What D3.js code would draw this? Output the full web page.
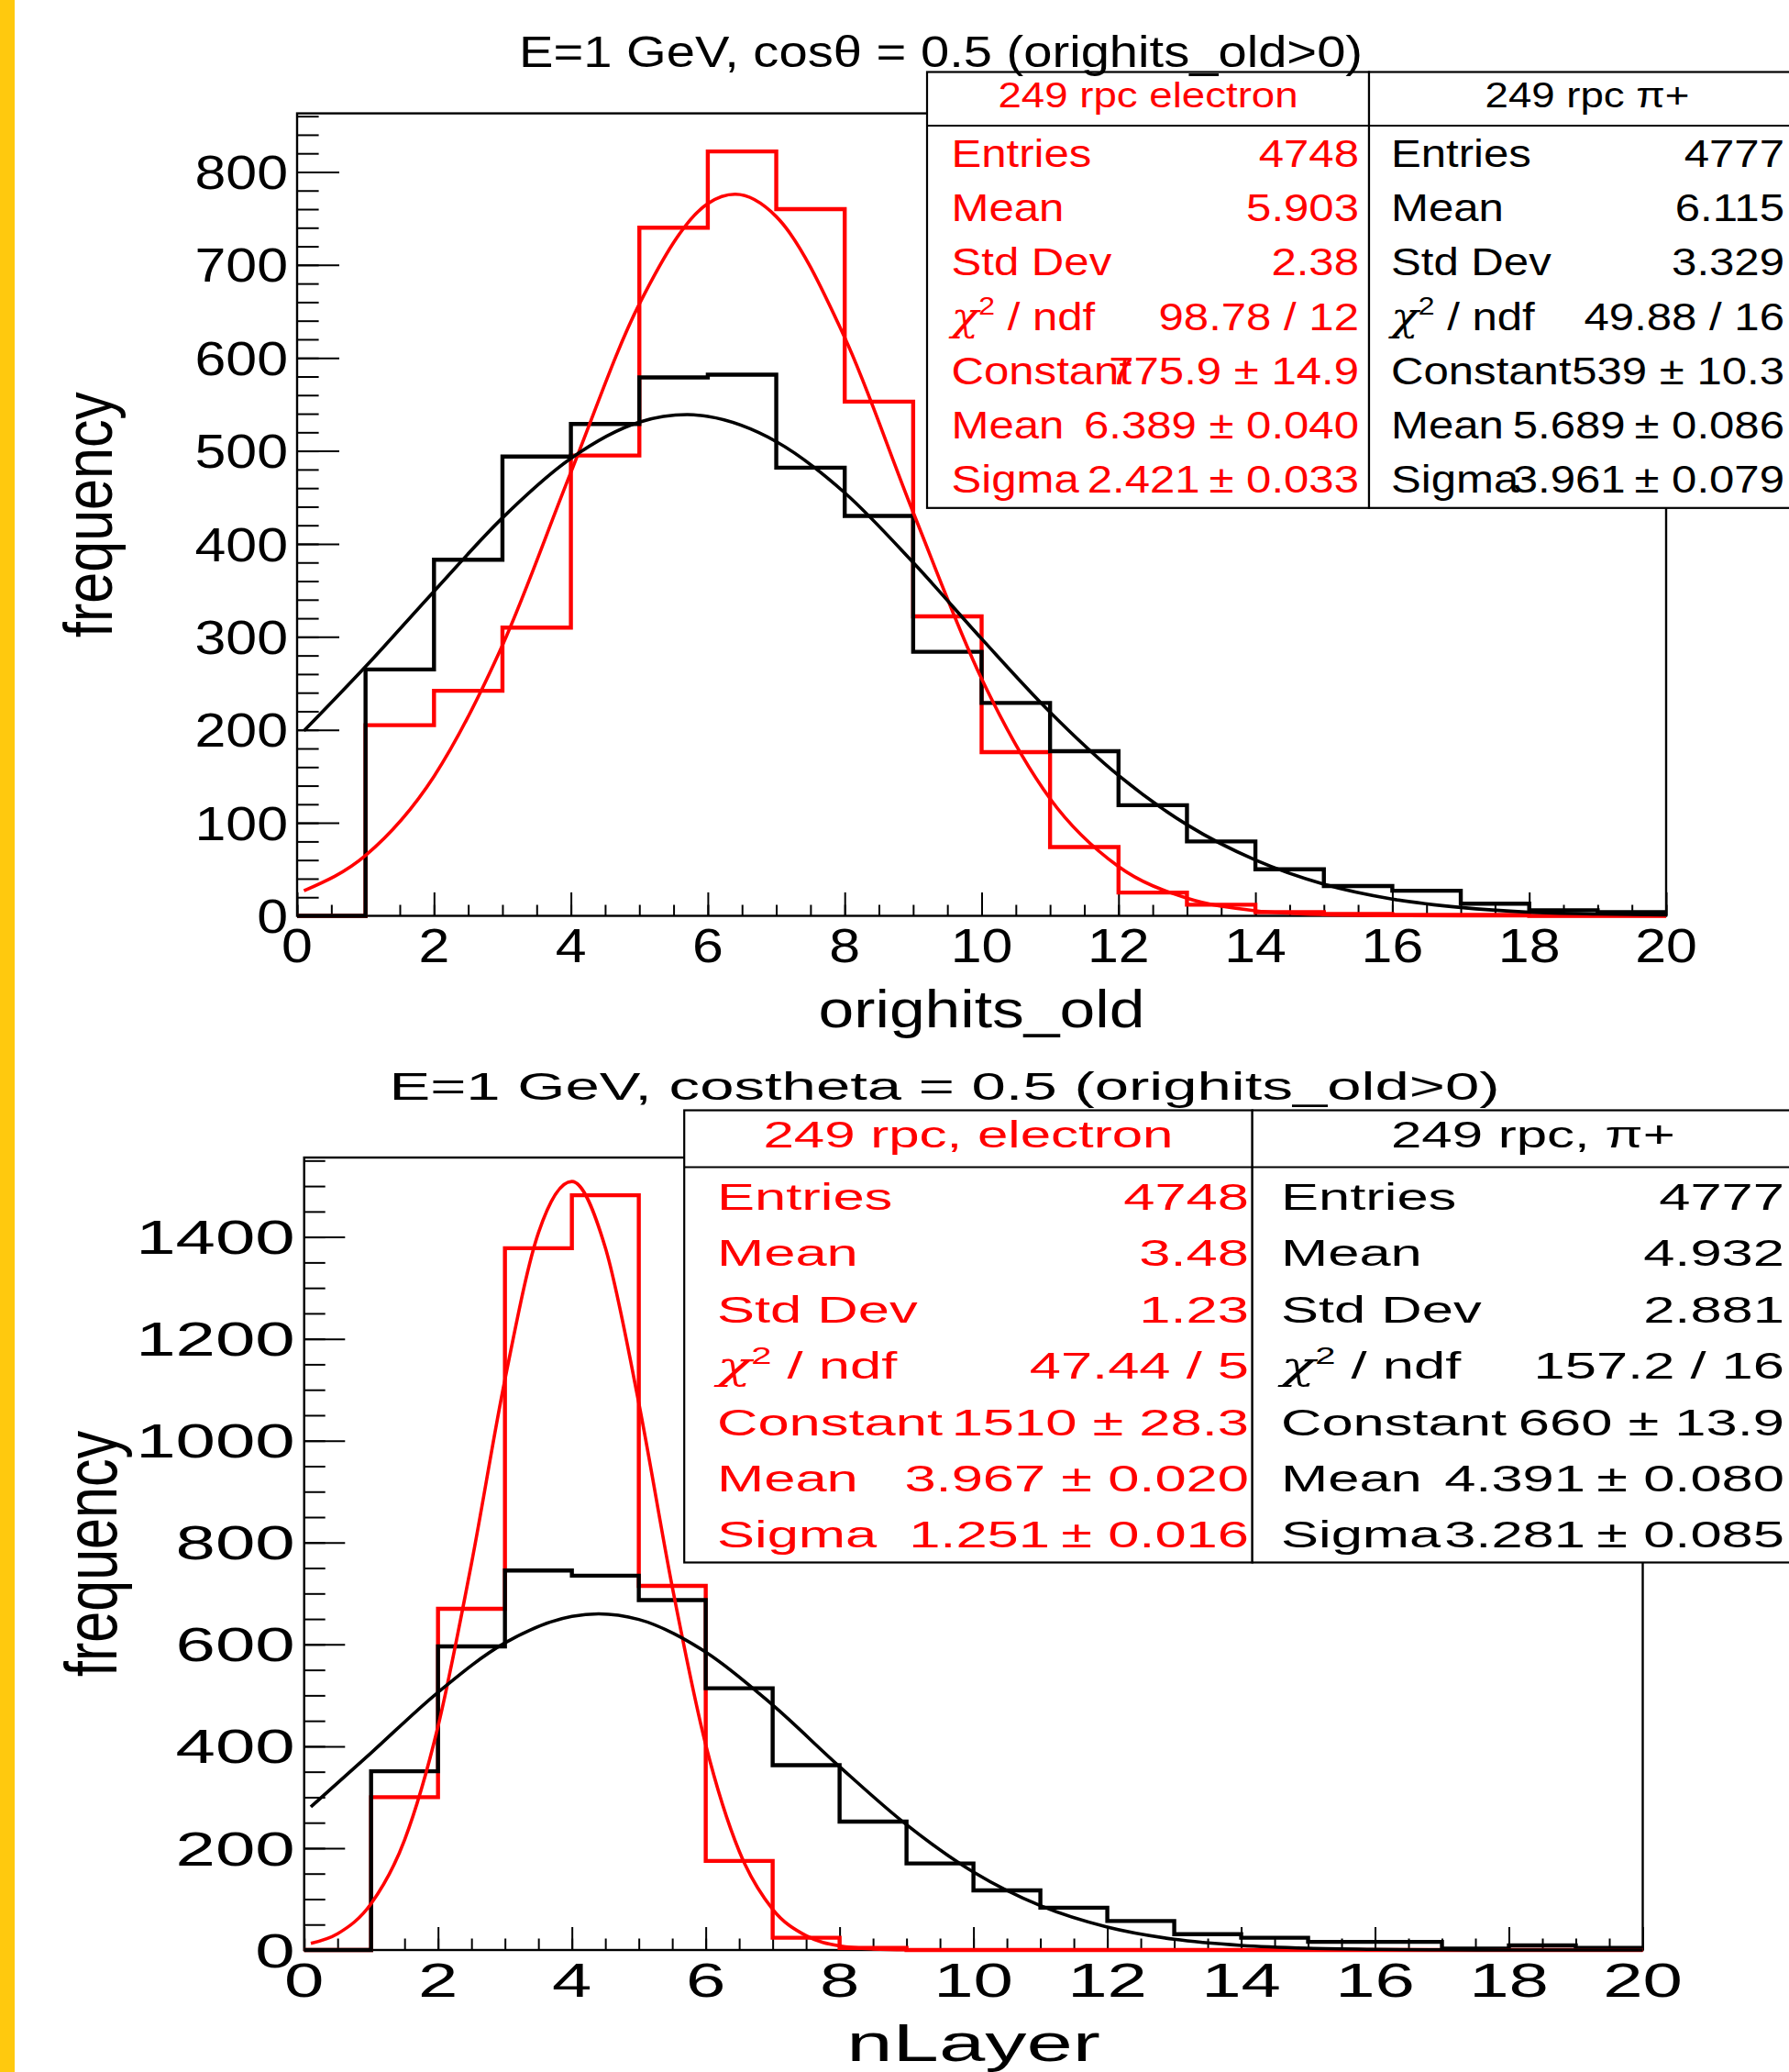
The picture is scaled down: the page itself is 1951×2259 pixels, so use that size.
<!DOCTYPE html>
<html>
<head>
<meta charset="utf-8">
<script src="https://cdn.jsdelivr.net/npm/d3@7"></script>
<style>
  body { margin: 0; background: #fff; }
  svg { display: block; font-family: "Liberation Sans", Arial, sans-serif; }
</style>
</head>
<body>
<script>
// bin contents, 20 bins of width 1 from 0 to 20
var hitsElectron = [0, 205, 242, 310, 495, 740, 822, 760, 553, 322, 176, 74, 25, 12, 4, 2, 1, 1, 0, 0];
var hitsPion     = [0, 265, 383, 494, 529, 579, 582, 482, 430, 284, 229, 177, 119, 80, 50, 32, 27, 13, 6, 4];
var layerElectron = [0, 300, 670, 1378, 1482, 715, 175, 24, 4, 0, 0, 0, 0, 0, 0, 0, 0, 0, 0, 0];
var layerPion     = [0, 351, 596, 745, 735, 687, 514, 363, 252, 170, 117, 83, 57, 31, 24, 16, 16, 3, 9, 4];

// fit curves, points
var hitsElectronFitX = [0.1, 1, 2, 3, 4, 5, 6, 6.4, 7, 8, 9, 10, 11, 12, 13, 14, 15, 16, 17, 18, 19, 20];
var hitsElectronFitY = [27, 65, 150, 291, 477, 658, 766, 776, 752, 622, 434, 255, 126, 53, 19, 5.5, 1.4, 0.3, 0, 0, 0, 0];
var hitsPionFitX = [0.1, 1, 2, 3, 4, 5, 5.7, 6, 7, 8, 9, 10, 11, 12, 13, 14, 15, 16, 17, 18, 19, 20];
var hitsPionFitY = [199, 268, 349, 428, 492, 531, 539, 537, 510, 455, 380, 298, 219, 151, 98, 60, 34, 18, 9, 4, 2, 1];
var layerElectronFitX = [0.1, 0.5, 1, 1.5, 2, 2.5, 3, 3.5, 4, 4.5, 5, 5.5, 6, 6.5, 7, 7.5, 8, 8.5, 9, 10, 12, 14, 16, 18, 20];
var layerElectronFitY = [13, 32, 91, 216, 439, 759, 1120, 1408, 1509, 1379, 1074, 713, 403, 194, 80, 28, 8, 2, 0.4, 0, 0, 0, 0, 0, 0];
var layerPionFitX = [0.1, 1, 2, 3, 4, 4.4, 5, 6, 7, 8, 9, 10, 11, 12, 13, 14, 15, 16, 17, 18, 19, 20];
var layerPionFitY = [281, 387, 506, 603, 655, 660, 649, 585, 481, 360, 246, 153, 87, 45, 21, 9, 3.5, 1.3, 0.4, 0.1, 0, 0];

// tick labels
var xTicks = [0, 2, 4, 6, 8, 10, 12, 14, 16, 18, 20];
var hitsYTicks = [0, 100, 200, 300, 400, 500, 600, 700, 800];
var layerYTicks = [0, 200, 400, 600, 800, 1000, 1200, 1400];

// stats boxes
var statLabels = ["Entries", "Mean", "Std Dev", "chi2", "Constant", "Mean", "Sigma"];
var hitsElectronStats = ["4748", "5.903", "2.38", "98.78 / 12", "775.9 \u00b1 14.9", "6.389 \u00b1 0.040", "2.421\u2009\u00b1 0.033"];
var hitsPionStats     = ["4777", "6.115", "3.329", "49.88 / 16", "539 \u00b1 10.3", "5.689\u2009\u00b1 0.086", "3.961\u2009\u00b1 0.079"];
var layerElectronStats = ["4748", "3.48", "1.23", "47.44 / 5", "1510 \u00b1 28.3", "3.967 \u00b1 0.020", "1.251\u2009\u00b1 0.016"];
var layerPionStats     = ["4777", "4.932", "2.881", "157.2 / 16", "660 \u00b1 13.9", "4.391\u2009\u00b1 0.080", "3.281\u2009\u00b1 0.085"];

var svg = d3.select("body").append("svg")
  .attr("width", 1951)
  .attr("height", 2259);

svg.append("rect").attr("width", 1951).attr("height", 2259).attr("fill", "#fff");
svg.append("rect").attr("x", 0).attr("y", 0).attr("width", 16).attr("height", 2259).attr("fill", "#ffc90e");

// text that is stretched sideways like the picture
function stext(parent, x, y, str, size, sx, anchor, color) {
  return parent.append("text")
    .attr("transform", `translate(${x},${y}) scale(${sx},1)`)
    .attr("text-anchor", anchor || "start")
    .attr("font-size", size)
    .attr("fill", color || "#000")
    .text(str);
}

function drawPanel(p) {
  var g = svg.append("g");
  var x = d3.scaleLinear().domain([0, 20]).range([p.left, p.right]);
  var y = d3.scaleLinear().domain([0, p.yMax]).range([p.bottom, p.top]);

  // frame
  g.append("rect")
    .attr("x", p.left).attr("y", p.top)
    .attr("width", p.right - p.left).attr("height", p.bottom - p.top)
    .attr("fill", "none").attr("stroke", "#000").attr("stroke-width", 2.4);

  // ticks
  var tickG = g.append("g");
  tickG.append("g").attr("transform", `translate(${p.left},0)`)
    .call(d3.axisLeft(y).tickValues(d3.range(0, p.yMax, p.yMinor)).tickSize(-p.yMinorLen).tickFormat(""));
  tickG.append("g").attr("transform", `translate(${p.left},0)`)
    .call(d3.axisLeft(y).tickValues(p.yTicks).tickSize(-p.yMajorLen).tickFormat(""));
  tickG.append("g").attr("transform", `translate(0,${p.bottom})`)
    .call(d3.axisBottom(x).tickValues(d3.range(0, 20.01, 0.5)).tickSize(-p.xMinorLen).tickFormat(""));
  tickG.append("g").attr("transform", `translate(0,${p.bottom})`)
    .call(d3.axisBottom(x).tickValues(xTicks).tickSize(-p.xMajorLen).tickFormat(""));
  tickG.selectAll(".domain").remove();
  tickG.selectAll(".tick line").attr("stroke", "#000").attr("stroke-width", 2);

  // tick labels
  p.yTicks.forEach(function(v) {
    stext(g, p.left - 10, y(v) + 18.6, String(v), 52, p.sx, "end");
  });
  xTicks.forEach(function(v) {
    stext(g, x(v), p.bottom + 50.5, String(v), 52, p.sx, "middle");
  });

  // axis titles
  stext(g, (p.left + p.right) / 2, p.xTitleY, p.xTitle, 58, p.xTitleSx, "middle");
  g.append("text")
    .attr("transform", `translate(${p.yTitleX},${(p.top + p.bottom) / 2}) scale(${p.yTitleSx},1) rotate(-90)`)
    .attr("text-anchor", "middle")
    .attr("font-size", 61)
    .text("frequency");

  // histograms and fits
  var step = d3.line().x(d => x(d[0])).y(d => y(d[1])).curve(d3.curveStepAfter);
  var fit = d3.line().x(d => x(d[0])).y(d => y(d[1])).curve(d3.curveMonotoneX);

  p.series.forEach(function(s) {
    var pts = s.bins.map((v, i) => [i, v]);
    pts.push([20, s.bins[s.bins.length - 1]]);
    g.append("path").attr("d", step(pts))
      .attr("fill", "none").attr("stroke", s.color).attr("stroke-width", 4.4);
  });
  p.series.forEach(function(s) {
    var fpts = s.fitX.map((v, i) => [v, s.fitY[i]]);
    g.append("path").attr("d", fit(fpts))
      .attr("fill", "none").attr("stroke", s.color).attr("stroke-width", 3.6);
  });

  // stats boxes
  var st = p.stats;
  st.cols.forEach(function(c) {
    var bg = g.append("g");
    bg.append("rect")
      .attr("x", c.x0).attr("y", st.yTop)
      .attr("width", c.x1 - c.x0).attr("height", st.yBot - st.yTop)
      .attr("fill", "#fff").attr("stroke", "#000").attr("stroke-width", 2.2);
    bg.append("line")
      .attr("x1", c.x0).attr("x2", c.x1).attr("y1", st.ySep).attr("y2", st.ySep)
      .attr("stroke", "#000").attr("stroke-width", 2.2);
    stext(bg, (c.x0 + c.x1) / 2, st.headerY, c.header, st.headerSize, p.sx, "middle", c.color);
    statLabels.forEach(function(lab, i) {
      var yy = st.rowY0 + i * st.rowStep;
      if (lab === "chi2") {
        var t = stext(bg, c.labelX, yy, "", st.rowSize, p.sx, "start", c.color);
        t.append("tspan").attr("font-style", "italic").attr("font-family", "DejaVu Serif, serif").text("\u03c7");
        t.append("tspan").attr("font-size", st.rowSize * 0.65).attr("dy", -st.rowSize * 0.4).text("2");
        t.append("tspan").attr("font-size", st.rowSize).attr("dy", st.rowSize * 0.4).text(" / ndf");
      } else {
        stext(bg, c.labelX, yy, lab, st.rowSize, p.sx, "start", c.color);
      }
      stext(bg, c.valueX, yy, c.values[i], st.rowSize, p.sx, "end", c.color);
    });
  });

  // title on top
  stext(g, p.titleX, p.titleY, p.title, p.titleSize, p.titleSx, "middle");
}

drawPanel({
  left: 324, right: 1817, top: 123.6, bottom: 998.5, yMax: 863,
  yTicks: hitsYTicks, yMinor: 20, yMajorLen: 46, yMinorLen: 23.6, xMajorLen: 25.6, xMinorLen: 12,
  sx: 1.17,
  title: "E=1 GeV, cos\u03b8 = 0.5 (orighits_old>0)", titleX: 1026, titleY: 72.7, titleSize: 48, titleSx: 1.17,
  xTitle: "orighits_old", xTitleY: 1120, xTitleSx: 1.2,
  yTitleX: 122, yTitleSx: 1.2,
  series: [
    { bins: hitsElectron, fitX: hitsElectronFitX, fitY: hitsElectronFitY, color: "#ff0000" },
    { bins: hitsPion, fitX: hitsPionFitX, fitY: hitsPionFitY, color: "#000000" }
  ],
  stats: {
    yTop: 78.5, ySep: 137, yBot: 553.8, headerY: 116.7, headerSize: 39,
    rowY0: 182, rowStep: 59.2, rowSize: 42,
    cols: [
      { x0: 1011, x1: 1493, labelX: 1037.5, valueX: 1482, header: "249 rpc electron", color: "#ff0000", values: hitsElectronStats },
      { x0: 1493, x1: 1969, labelX: 1517, valueX: 1946, header: "249 rpc \u03c0+", color: "#000000", values: hitsPionStats }
    ]
  }
});

drawPanel({
  left: 331.7, right: 1791.5, top: 1262, bottom: 2126, yMax: 1556,
  yTicks: layerYTicks, yMinor: 50, yMajorLen: 44.6, yMinorLen: 23, xMajorLen: 25, xMinorLen: 12.5,
  sx: 1.5,
  title: "E=1 GeV, costheta = 0.5 (orighits_old>0)", titleX: 1030, titleY: 1199, titleSize: 43, titleSx: 1.56,
  xTitle: "nLayer", xTitleY: 2247, xTitleSx: 1.56,
  yTitleX: 127, yTitleSx: 1.3,
  series: [
    { bins: layerElectron, fitX: layerElectronFitX, fitY: layerElectronFitY, color: "#ff0000" },
    { bins: layerPion, fitX: layerPionFitX, fitY: layerPionFitY, color: "#000000" }
  ],
  stats: {
    yTop: 1210.5, ySep: 1272.5, yBot: 1703.5, headerY: 1251.4, headerSize: 40,
    rowY0: 1319, rowStep: 61.4, rowSize: 41,
    cols: [
      { x0: 746.2, x1: 1365.7, labelX: 782, valueX: 1362, header: "249 rpc, electron", color: "#ff0000", values: layerElectronStats },
      { x0: 1365.7, x1: 1978, labelX: 1397, valueX: 1946, header: "249 rpc, \u03c0+", color: "#000000", values: layerPionStats }
    ]
  }
});
</script>
</body>
</html>
